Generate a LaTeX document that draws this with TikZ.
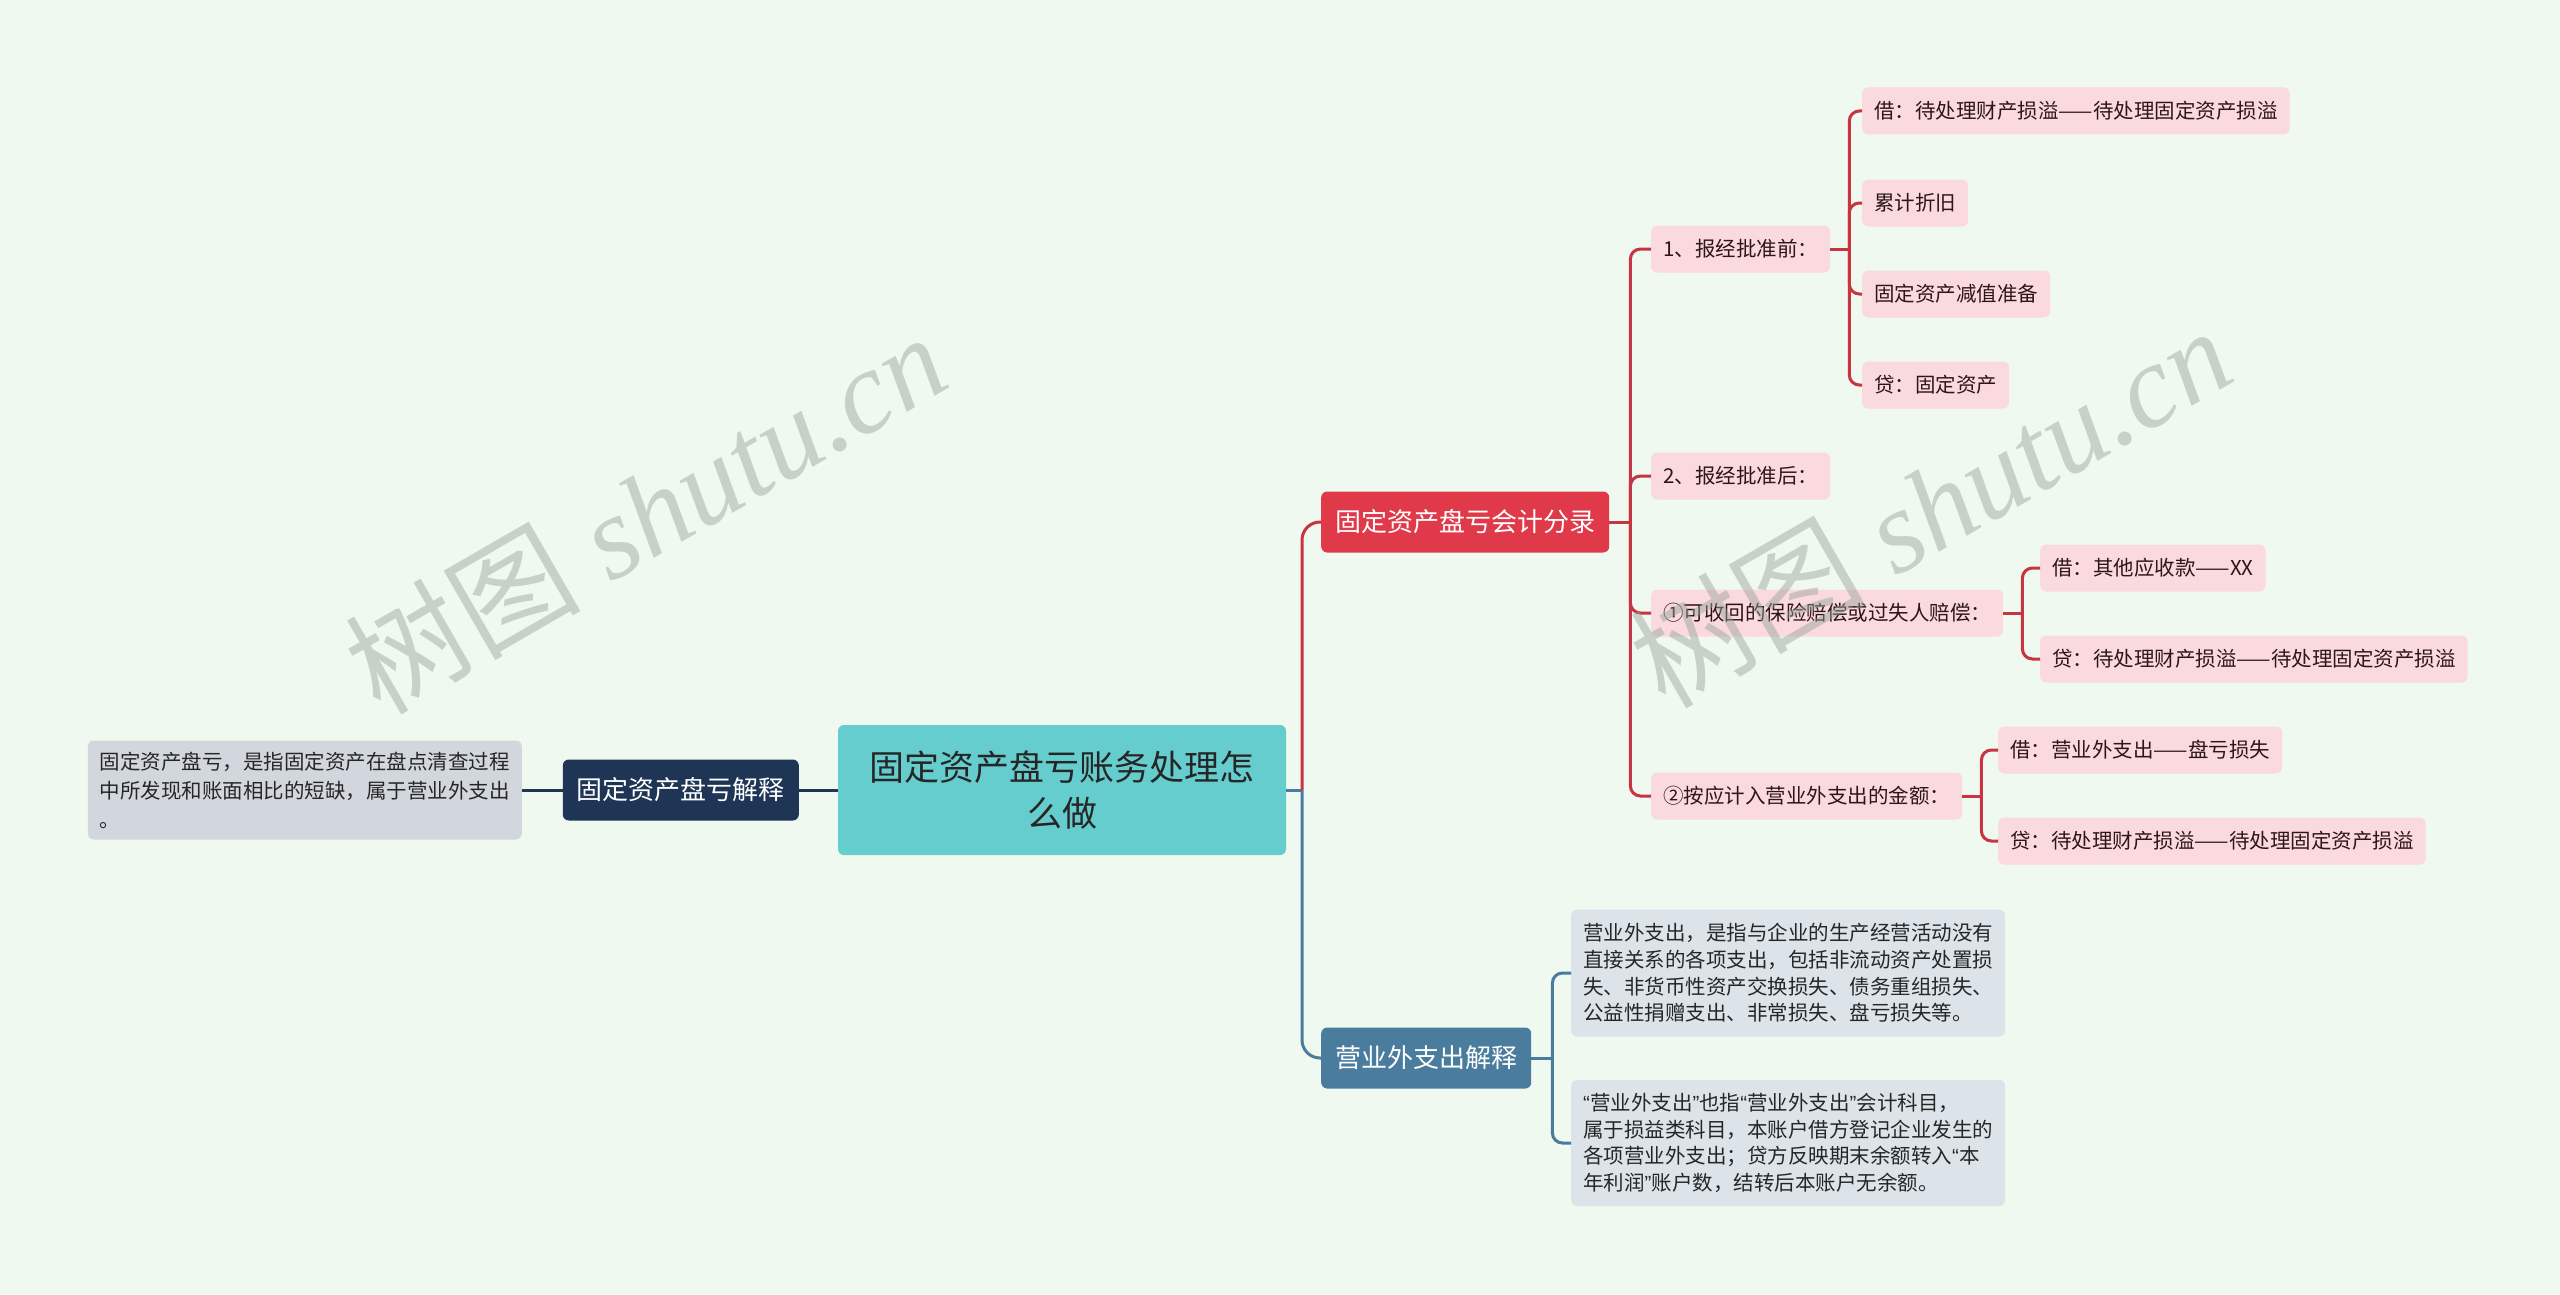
\documentclass[tikz,border=0pt]{standalone}
\usepackage{fontspec}
\setmainfont{Noto Sans CJK SC}
\newfontfamily\wmfont{Liberation Serif}
\newfontfamily\quotefont{Liberation Sans}
\newcommand\openq{{\quotefont “}}
\newcommand\closeq{{\quotefont ”}}
\definecolor{bgcol}{RGB}{240,249,239}
\definecolor{rootcol}{RGB}{102,205,207}
\definecolor{redcol}{RGB}{224,57,73}
\definecolor{redline}{RGB}{200,52,66}
\definecolor{pinkcol}{RGB}{250,218,222}
\definecolor{navycol}{RGB}{31,53,85}
\definecolor{greycol}{RGB}{210,215,222}
\definecolor{bluecol}{RGB}{74,124,158}
\definecolor{paleblue}{RGB}{220,228,234}
\definecolor{inkcol}{RGB}{45,22,26}
\definecolor{wmcol}{RGB}{150,162,152}
\tikzset{
  root/.style={fill=rootcol, rounded corners=6pt, minimum width=448pt, minimum height=130pt,
    align=center, text=black!85, font=\fontsize{35}{46}\selectfont},
  topic/.style={rounded corners=6pt, minimum height=61pt, inner xsep=14pt, text=white,
    font=\fontsize{26}{30}\selectfont, anchor=west},
  leaf/.style={fill=pinkcol, rounded corners=6pt, minimum height=47pt, inner xsep=12pt,
    text=inkcol, font=\fontsize{20.5}{26}\selectfont, anchor=west},
  note/.style={rounded corners=6pt, text width=410pt, inner xsep=12pt, align=left,
    text=black!85, font=\fontsize{20.5}{26.7}\selectfont, anchor=west},
  redwire/.style={draw=redline, line width=3pt, rounded corners=10pt},
  bluewire/.style={draw=bluecol, line width=3pt, rounded corners=10pt},
  navywire/.style={draw=navycol, line width=3pt},
  wm/.style={text=wmcol, text opacity=0.45, rotate=30, font=\fontsize{118}{120}\selectfont}
}
\begin{document}
\begin{tikzpicture}[x=1pt, y=-1pt]
  \fill[bgcol] (0,0) rectangle (2560,1295);
  \useasboundingbox (0,0) rectangle (2560,1295);

  \node[root] (root) at (1062,790) {固定资产盘亏账务处理怎\\么做};

  \node[topic, fill=navycol, anchor=east] (jieshi) at (799,790) {固定资产盘亏解释};
  \node[note, fill=greycol, anchor=east, minimum height=99pt,
    font=\fontsize{20.5}{29}\selectfont] (dingyi) at (522,790)
    {固定资产盘亏，是指固定资产在盘点清查过程\\中所发现和账面相比的短缺，属于营业外支出\\。};

  \node[topic, fill=redcol] (fenlu) at (1321,522) {固定资产盘亏会计分录};
  \node[topic, fill=bluecol] (yingye) at (1321,1058) {营业外支出解释};

  \node[leaf] (qian) at (1651,249) {1、报经批准前：};
  \node[leaf] (hou) at (1651,476) {2、报经批准后：};
  \node[leaf] (shou) at (1651,613) {①可收回的保险赔偿或过失人赔偿：};
  \node[leaf] (ji) at (1651,796) {②按应计入营业外支出的金额：};

  \node[leaf] (q1) at (1862,111) {借：待处理财产损溢——待处理固定资产损溢};
  \node[leaf] (q2) at (1862,203) {累计折旧};
  \node[leaf] (q3) at (1862,294) {固定资产减值准备};
  \node[leaf] (q4) at (1862,385) {贷：固定资产};

  \node[leaf] (s1) at (2040,568) {借：其他应收款——XX};
  \node[leaf] (s2) at (2040,659) {贷：待处理财产损溢——待处理固定资产损溢};

  \node[leaf] (j1) at (1998,750) {借：营业外支出——盘亏损失};
  \node[leaf] (j2) at (1998,841) {贷：待处理财产损溢——待处理固定资产损溢};

  \node[note, fill=paleblue, minimum height=127pt] (y1) at (1571,973)
    {营业外支出，是指与企业的生产经营活动没有\\直接关系的各项支出，包括非流动资产处置损\\失、非货币性资产交换损失、债务重组损失、\\公益性捐赠支出、非常损失、盘亏损失等。};
  \node[note, fill=paleblue, minimum height=126pt] (y2) at (1571,1143)
    {\openq 营业外支出\closeq 也指\openq 营业外支出\closeq 会计科目，\\属于损益类科目，本账户借方登记企业发生的\\各项营业外支出；贷方反映期末余额转入\openq 本\\年利润\closeq 账户数，结转后本账户无余额。};

  \draw[navywire] (root.west) -- (jieshi.east);
  \draw[navywire] (jieshi.west) -- (dingyi.east);

  \coordinate (trunk) at (1302,790);
  \draw[bluewire] (root.east) -- (trunk);
  \draw[redwire, rounded corners=18pt] (trunk) |- (fenlu.west);
  \draw[bluewire, rounded corners=18pt] (trunk) |- (yingye.west);

  \coordinate (fenlu-j) at ([xshift=21pt]fenlu.east);
  \draw[redwire] (fenlu.east) -- (fenlu-j);
  \foreach \n in {qian,hou,shou,ji}
    \draw[redwire] (fenlu-j) |- (\n.west);

  \coordinate (qian-j) at ([xshift=19pt]qian.east);
  \draw[redwire] (qian.east) -- (qian-j);
  \foreach \n in {q1,q2,q3,q4}
    \draw[redwire] (qian-j) |- (\n.west);

  \coordinate (shou-j) at ([xshift=19pt]shou.east);
  \draw[redwire] (shou.east) -- (shou-j);
  \foreach \n in {s1,s2}
    \draw[redwire] (shou-j) |- (\n.west);

  \coordinate (ji-j) at ([xshift=19pt]ji.east);
  \draw[redwire] (ji.east) -- (ji-j);
  \foreach \n in {j1,j2}
    \draw[redwire] (ji-j) |- (\n.west);

  \coordinate (yingye-j) at ([xshift=21pt]yingye.east);
  \draw[bluewire] (yingye.east) -- (yingye-j);
  \foreach \n in {y1,y2}
    \draw[bluewire] (yingye-j) |- (\n.west);

  \node[wm] (wm1) at (645,512) {树图{\wmfont\itshape\ shutu.cn}};
  \node[wm] (wm2) at (1930,506) {树图{\wmfont\itshape\ shutu.cn}};
\end{tikzpicture}
\end{document}
